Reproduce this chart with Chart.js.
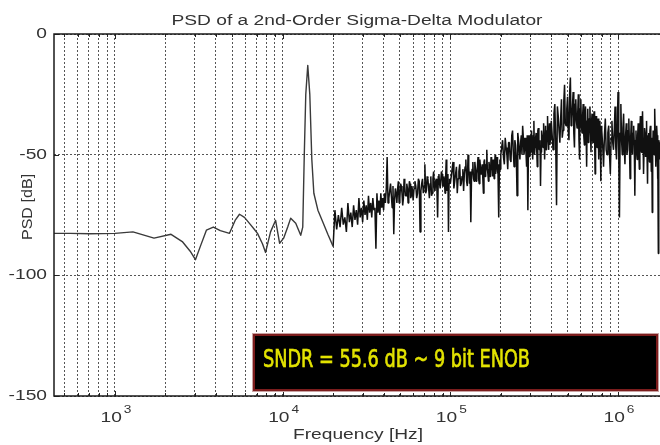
<!DOCTYPE html>
<html>
<head>
<meta charset="utf-8">
<title>PSD of a 2nd-Order Sigma-Delta Modulator</title>
<script src="https://cdn.jsdelivr.net/npm/chart.js@4.4.1/dist/chart.umd.min.js"></script>
<style>
    html, body { margin: 0; padding: 0; background: #ffffff; }
    #wrap { width: 660px; height: 445px; }
</style>
</head>
<body>
<div id="wrap"><canvas id="psd-chart" width="660" height="445"></canvas></div>
<script>
// Smooth low-frequency part of the spectrum (Hz, dB)
const freqSmooth = [433, 540, 710, 1000, 1280, 1710, 2160, 2520, 2810, 3020, 3230, 3510, 3860, 4250,
    4820, 5230, 5530, 5920, 6430, 6790, 7080, 7590, 7910, 8470, 9080, 9590, 10140, 10720, 11170,
    11970, 12820, 13180, 13460, 13740, 14120, 14520, 14930, 15350, 16230, 17380, 18600, 20000];
const psdSmooth = [-82.6, -82.6, -82.8, -82.6, -82, -84.6, -83, -86, -90, -93.5, -88, -81.3, -80, -81.5,
    -82.6, -77, -74.7, -76, -79, -81, -82.6, -87, -90.5, -82, -77.2, -86.7, -84.6, -80, -76.3,
    -78.4, -83.4, -80, -50, -25, -13, -25, -52, -66, -73, -78, -83, -88];

// Shaped noise, 20 kHz - 99 kHz (kHz, dB)
const noiseKhz1 = [20, 20.5, 21, 21.5, 22, 22.5, 23, 23.5, 24, 24.5, 25, 25.5, 26, 26.5, 27, 27.5,
    28, 28.5, 29, 29.5, 30, 30.5, 31, 31.5, 32, 32.5, 33, 33.5, 34, 34.5, 35, 35.5, 36, 36.5, 37,
    37.5, 38, 38.5, 39, 39.5, 40,
    41, 42, 43, 44, 45, 46, 47, 48, 49, 50, 51, 52, 53, 54, 55, 56, 57, 58, 59, 60,
    61.5, 63, 64.5, 66, 67.5, 69, 70.5, 72, 73.5, 75, 76.5, 78, 79.5, 81, 82.5, 84, 85.5, 87,
    88.5, 90, 91.5, 93, 94.5, 96, 97.5, 99];
const noiseDb1 = [-88, -73, -81, -75, -80, -72, -79, -76, -82, -70, -78, -74, -80, -71, -77, -73,
    -79, -68, -76, -72, -78, -69, -75, -71, -77, -67, -74, -70, -76, -68, -73, -72, -89, -66, -74,
    -69, -75, -66, -72, -68, -73,
    -70, -51, -68, -62, -72, -83, -64, -70, -61, -68, -63, -71, -60, -67, -62, -70, -61, -68, -63, -69,
    -61, -68, -60, -82, -62, -66, -54, -65, -60, -68, -59, -66, -57, -65, -60, -76, -58, -64,
    -57, -63, -59, -66, -52, -64, -82, -60];

// Shaped noise, 100 kHz - 1.78 MHz (kHz, dB)
const noiseKhz2 = [100, 102.5, 105, 107.5, 110, 112.5, 115, 117.5, 120, 122.5, 125, 127.5, 130,
    132.5, 135, 137.5, 140, 142.5, 145, 147.5, 150, 152.5, 155, 157.5, 160, 162.5, 165, 167.5, 170,
    172.5, 175, 177.5, 180, 182.5, 185, 187.5, 190, 192.5, 195, 197.5,
    200, 205, 210, 215, 220, 225, 230, 235, 240, 245, 250, 255, 260, 265, 270, 275, 280, 285, 290,
    295, 300, 305, 310, 315, 320, 325, 330, 335, 340, 345, 350, 355, 360, 365, 370, 375, 380, 385,
    390, 395,
    400, 410, 420, 430, 440, 450, 460, 470, 480, 490, 500, 510, 520, 530, 540, 550, 560, 570, 580,
    590, 600, 610, 620, 630, 640, 650, 660, 670, 680, 690, 700, 710, 720, 730, 740, 750, 760, 770,
    780, 790,
    800, 820, 840, 860, 880, 900, 920, 940, 960, 980, 1000, 1020, 1040, 1060, 1080, 1100, 1120,
    1140, 1160, 1180, 1200, 1220, 1240, 1260, 1280, 1300, 1320, 1340, 1360, 1380, 1400, 1420, 1440,
    1460, 1480, 1500, 1520, 1540, 1560, 1580, 1600, 1620, 1640, 1660, 1680, 1700, 1720, 1740, 1760,
    1780];
const noiseDb2 = [-62, -56, -64, -58, -66, -57, -63, -59, -65, -55, -61, -50, -62, -78, -56, -60,
    -53, -61, -55, -60, -52, -58, -54, -66, -52, -57, -48, -58, -53, -59, -51, -56, -52, -60, -50,
    -55, -51, -58, -76, -52,
    -50, -44, -54, -47, -56, -45, -53, -40, -55, -46, -67, -44, -52, -42, -38, -50, -43, -55, -73,
    -42, -49, -40, -52, -36, -47, -41, -55, -39, -48, -63, -40, -46, -37, -52, -38, -45, -34, -48,
    -37, -44,
    -36, -48, -29, -71, -34, -45, -27, -40, -21, -38, -26, -44, -18, -35, -24, -47, -27, -39, -25,
    -52, -27, -41, -29, -46, -30, -55, -31, -43, -30, -49, -33, -45, -32, -58, -34, -47, -35, -52,
    -36, -61,
    -40, -55, -35, -50, -38, -58, -36, -48, -30, -52, -24, -76, -29, -50, -33, -54, -37, -48, -35,
    -60, -36, -50, -38, -67, -40, -52, -37, -56, -34, -49, -32, -58, -39, -51, -36, -62, -41, -53,
    -38, -57, -74, -40, -50, -31, -55, -38, -60, -91, -45, -52];

// In-between noise bins, 40 kHz - 1.77 MHz (kHz, dB)
const noiseMidKhz = [40.5, 41.5, 42.5, 43.5, 44.5, 45.5, 46.5, 47.5, 48.5, 49.5, 50.5, 51.5, 52.5,
    53.5, 54.5, 55.5, 56.5, 57.5, 58.5, 59.5,
    60.75, 62.25, 63.75, 65.25, 66.75, 68.25, 69.75, 71.25, 72.75, 74.25, 75.75, 77.25, 78.75,
    80.25, 81.75, 83.25, 84.75, 86.25, 87.75, 89.25, 90.75, 92.25, 93.75, 95.25, 96.75, 98.25,
    101.25, 103.75, 106.25, 108.75, 111.25, 113.75, 116.25, 118.75, 121.25, 123.75, 126.25, 128.75,
    131.25, 133.75, 136.25, 138.75, 141.25, 143.75, 146.25, 148.75, 151.25, 153.75, 156.25, 158.75,
    161.25, 163.75, 166.25, 168.75, 171.25, 173.75, 176.25, 178.75, 181.25, 183.75, 186.25, 188.75,
    191.25, 193.75, 196.25, 198.75,
    202.5, 207.5, 212.5, 217.5, 222.5, 227.5, 232.5, 237.5, 242.5, 247.5, 252.5, 257.5, 262.5,
    267.5, 272.5, 277.5, 282.5, 287.5, 292.5, 297.5, 302.5, 307.5, 312.5, 317.5, 322.5, 327.5,
    332.5, 337.5, 342.5, 347.5, 352.5, 357.5, 362.5, 367.5, 372.5, 377.5, 382.5, 387.5, 392.5, 397.5,
    405, 415, 425, 435, 445, 455, 465, 475, 485, 495, 505, 515, 525, 535, 545, 555, 565, 575, 585,
    595, 605, 615, 625, 635, 645, 655, 665, 675, 685, 695, 705, 715, 725, 735, 745, 755, 765, 775,
    785, 795,
    810, 830, 850, 870, 890, 910, 930, 950, 970, 990, 1010, 1030, 1050, 1070, 1090, 1110, 1130,
    1150, 1170, 1190, 1210, 1230, 1250, 1270, 1290, 1310, 1330, 1350, 1370, 1390, 1410, 1430, 1450,
    1470, 1490, 1510, 1530, 1550, 1570, 1590, 1610, 1630, 1650, 1670, 1690, 1710, 1730, 1750, 1770];
const noiseMidDb = [-66, -64, -70, -65, -67, -63, -69, -66, -64, -70, -62, -66, -68, -63, -67, -64,
    -66, -62, -67, -65,
    -64, -63, -66, -61, -65, -60, -63, -66, -59, -64, -62, -67, -60, -63, -61, -65, -59, -62, -64,
    -58, -63, -61, -60, -65, -58, -62,
    -59, -53, -61, -55, -60, -54, -62, -56, -58, -52, -63, -55, -57, -60, -53, -61, -56, -58, -51,
    -62, -55, -57, -60, -53, -59, -54, -56, -61, -55, -57, -53, -59, -56, -54, -58, -52, -57, -54,
    -55, -56,
    -47, -51, -43, -50, -45, -52, -42, -49, -44, -51, -41, -48, -45, -50, -43, -47, -49, -42, -46,
    -51, -44, -47, -42, -50, -43, -48, -40, -46, -44, -49, -42, -47, -41, -45, -48, -40, -44, -43,
    -46, -39,
    -42, -33, -45, -30, -40, -35, -43, -28, -37, -31, -40, -24, -38, -30, -41, -29, -36, -33, -44,
    -31, -38, -34, -42, -33, -39, -36, -45, -35, -40, -37, -44, -36, -42, -38, -46, -37, -43, -39,
    -47, -38,
    -46, -42, -48, -41, -50, -43, -45, -40, -47, -38, -49, -41, -44, -39, -47, -42, -50, -40, -46,
    -43, -48, -41, -45, -44, -49, -42, -47, -40, -44, -46, -43, -48, -41, -45, -50, -42, -46, -40,
    -47, -43, -49, -41, -45, -44, -48, -42, -47, -44, -46];

// Axis ticks
const xGridHz = [500, 600, 700, 800, 900, 1000, 2000, 3000, 4000, 5000, 6000, 7000, 8000, 9000,
    10000, 20000, 30000, 40000, 50000, 60000, 70000, 80000, 90000, 100000, 200000, 300000, 400000,
    500000, 600000, 700000, 800000, 900000, 1000000];
const xDecadeHz = [1000, 10000, 100000, 1000000];
const xDecadeExp = ['3', '4', '5', '6'];
const yTickDb = [0, -50, -100, -150];

// Annotation
const noteText = 'SNDR = 55.6 dB ~ 9 bit ENOB';
const noteFromHz = 6650;
const noteTopDb = -124.4;
const noteBottomDb = -148;

const textFont = '"Liberation Sans", Arial, Helvetica, sans-serif';
const textColor = '#333333';
const textStretch = 1.37;   // the picture is widened horizontally

// Point lists for the two pieces of the trace
const smoothPoints = freqSmooth.map((f, i) => ({ x: f, y: psdSmooth[i] }));
const noisePoints = [];
noiseKhz1.forEach((f, i) => noisePoints.push({ x: f * 1000, y: noiseDb1[i] }));
noiseKhz2.forEach((f, i) => noisePoints.push({ x: f * 1000, y: noiseDb2[i] }));
noiseMidKhz.forEach((f, i) => noisePoints.push({ x: f * 1000, y: noiseMidDb[i] }));
noisePoints.sort((a, b) => a.x - b.x);

/**
 * Draw text widened by sx around its anchor
 */
function drawWide(ctx, text, x, y, sx, align) {
    ctx.save();
    ctx.translate(x, y);
    ctx.scale(sx, 1);
    ctx.textAlign = align;
    ctx.fillText(text, 0, 0);
    ctx.restore();
}

// Frame, inward ticks, labels and the SNDR box (MATLAB look)
const matlabDecor = {
    id: 'matlabDecor',
    afterDatasetsDraw(chart) {
        const ctx = chart.ctx;
        const area = chart.chartArea;
        const xs = chart.scales.x;
        const ys = chart.scales.y;

        ctx.save();
        ctx.strokeStyle = '#222222';
        ctx.lineWidth = 1;

        // ticks pointing into the plot
        ctx.beginPath();
        xGridHz.forEach(v => {
            const px = Math.round(xs.getPixelForValue(v)) + 0.5;
            const len = xDecadeHz.includes(v) ? 5 : 3;
            ctx.moveTo(px, area.top);
            ctx.lineTo(px, area.top + len);
            ctx.moveTo(px, area.bottom);
            ctx.lineTo(px, area.bottom - len);
        });
        yTickDb.forEach(v => {
            const py = Math.round(ys.getPixelForValue(v)) + 0.5;
            ctx.moveTo(area.left, py);
            ctx.lineTo(area.left + 5, py);
        });
        ctx.stroke();

        // box lines (right side is cut off in the picture)
        ctx.strokeStyle = '#1a1a1a';
        ctx.lineWidth = 1.5;
        ctx.beginPath();
        ctx.moveTo(area.right, area.top);
        ctx.lineTo(area.left, area.top);
        ctx.lineTo(area.left, area.bottom);
        ctx.lineTo(area.right, area.bottom);
        ctx.stroke();

        // SNDR note
        const bx = Math.round(xs.getPixelForValue(noteFromHz));
        const by = Math.round(ys.getPixelForValue(noteTopDb));
        const bh = Math.round(ys.getPixelForValue(noteBottomDb)) - by;
        const bw = area.right - 2 - bx;
        ctx.fillStyle = '#000000';
        ctx.fillRect(bx, by, bw, bh);
        ctx.strokeStyle = '#c9a3a3';
        ctx.lineWidth = 1;
        ctx.strokeRect(bx - 0.5, by - 0.5, bw + 1, bh + 1);
        ctx.strokeStyle = '#7c1d1d';
        ctx.lineWidth = 2;
        ctx.strokeRect(bx + 1, by + 1, bw - 2, bh - 2);

        ctx.font = '24px "Liberation Sans Narrow", "DejaVu Sans Condensed", "Liberation Sans", sans-serif';
        ctx.fillStyle = '#e3e300';
        ctx.strokeStyle = '#e3e300';
        ctx.lineWidth = 0.6;
        ctx.textBaseline = 'middle';
        const tw = ctx.measureText(noteText).width;
        const sx = 267 / tw;
        ctx.save();
        ctx.translate(bx + 10, by + bh / 2 - 2);
        ctx.scale(sx, 1);
        ctx.textAlign = 'left';
        ctx.fillText(noteText, 0, 0);
        ctx.strokeText(noteText, 0, 0);
        ctx.restore();
        ctx.restore();
    },
    afterDraw(chart) {
        const ctx = chart.ctx;
        const area = chart.chartArea;
        const xs = chart.scales.x;
        const ys = chart.scales.y;
        const midX = (area.left + area.right) / 2;

        ctx.save();
        ctx.fillStyle = textColor;

        // title
        ctx.font = '14px ' + textFont;
        ctx.textBaseline = 'alphabetic';
        drawWide(ctx, 'PSD of a 2nd-Order Sigma-Delta Modulator', midX, 25, textStretch, 'center');

        // x label
        drawWide(ctx, 'Frequency [Hz]', midX + 1, 439, textStretch, 'center');

        // y tick labels
        ctx.textBaseline = 'middle';
        yTickDb.forEach(v => {
            drawWide(ctx, String(v), area.left - 7, ys.getPixelForValue(v), textStretch, 'right');
        });

        // x decade labels with exponent
        ctx.textBaseline = 'alphabetic';
        xDecadeHz.forEach((v, i) => {
            const px = xs.getPixelForValue(v);
            ctx.font = '14px ' + textFont;
            const wBase = ctx.measureText('10').width * textStretch;
            ctx.font = '10px ' + textFont;
            const wExp = ctx.measureText(xDecadeExp[i]).width * textStretch;
            const left = px - (wBase + wExp + 2) / 2 + 1;
            ctx.font = '14px ' + textFont;
            drawWide(ctx, '10', left, 422, textStretch, 'left');
            ctx.font = '10px ' + textFont;
            drawWide(ctx, xDecadeExp[i], left + wBase + 2, 413, textStretch, 'left');
        });

        // y label
        ctx.font = '14px ' + textFont;
        ctx.textBaseline = 'middle';
        ctx.translate(28, 207);
        ctx.rotate(-Math.PI / 2);
        drawWide(ctx, 'PSD [dB]', 0, 0, 1.15, 'center');
        ctx.restore();
    }
};

const psdChart = new Chart(document.getElementById('psd-chart'), {
    type: 'line',
    data: {
        datasets: [{
            label: 'PSD (signal band)',
            data: smoothPoints,
            borderColor: '#3a3a3a',
            borderWidth: 1.4,
            borderJoinStyle: 'round',
            pointRadius: 0,
            tension: 0,
            fill: false
        }, {
            label: 'PSD (shaped noise)',
            data: noisePoints,
            borderColor: '#111111',
            borderWidth: 1.5,
            borderJoinStyle: 'bevel',
            pointRadius: 0,
            tension: 0,
            fill: false
        }]
    },
    options: {
        responsive: false,
        animation: false,
        layout: { padding: { top: 34, left: 0, right: 0, bottom: 0 } },
        plugins: {
            legend: { display: false },
            tooltip: { enabled: false },
            title: { display: false }
        },
        scales: {
            x: {
                type: 'logarithmic',
                min: 433,
                max: 1780000,
                afterBuildTicks: scale => { scale.ticks = xGridHz.map(v => ({ value: v })); },
                afterFit: scale => { scale.height = 49; },
                ticks: { display: false, autoSkip: false },
                grid: { color: '#555555', lineWidth: 1, drawTicks: false },
                border: { display: false, dash: [2, 2] }
            },
            y: {
                type: 'linear',
                min: -150,
                max: 0,
                afterBuildTicks: scale => { scale.ticks = yTickDb.map(v => ({ value: v })); },
                afterFit: scale => { scale.width = 54; },
                ticks: { display: false },
                grid: { color: '#555555', lineWidth: 1, drawTicks: false },
                border: { display: false, dash: [2, 2] }
            }
        }
    },
    plugins: [matlabDecor]
});
</script>
</body>
</html>
